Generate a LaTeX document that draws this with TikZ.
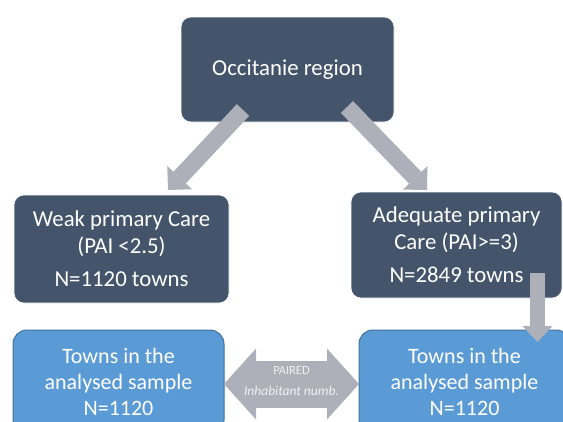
\documentclass[tikz,border=0pt]{standalone}
\usepackage{fontspec}
\setmainfont{Carlito}
\usetikzlibrary{positioning,calc,arrows.meta}

\definecolor{slate}{RGB}{68,84,106}
\definecolor{skyblue}{RGB}{91,155,213}
\definecolor{skyedge}{RGB}{65,113,156}
\definecolor{arrowgrey}{RGB}{173,176,184}

\begin{document}
\begin{tikzpicture}[
        x=1pt, y=1pt,
        darkblock/.style={rectangle, draw=white, line width=0.6pt, fill=slate, text=white, align=center, rounded corners=10pt, outer sep=0pt, font=\fontsize{22.8}{27}\selectfont},
        townblock/.style={rectangle, draw=skyedge, line width=1pt, fill=skyblue, text=white, align=center, rounded corners=14pt, outer sep=0pt, minimum width=211pt, minimum height=104pt, font=\fontsize{22}{26}\selectfont},
        fatline/.style={draw=arrowgrey, line width=17pt, -{Triangle[width=34pt, length=17pt, line width=0pt]}},
        pairline/.style={draw=arrowgrey, line width=47pt, {Triangle[width=71pt, length=32pt, line width=0pt]}-{Triangle[width=71pt, length=32pt, line width=0pt]}},
        pairtext/.style={text=white!94!black, align=center, font=\fontsize{13.5}{16}\selectfont}
    ]
    \useasboundingbox (0,0) rectangle (563,-421);
    \clip (0,0) rectangle (563,-421);

    % Region
    \node [darkblock, minimum width=213pt, minimum height=105pt] (occ) at (287.5,-69.5) {Occitanie region};

    % Primary care levels
    \node [darkblock, minimum width=215pt, minimum height=108pt, below=73pt of occ, xshift=-166pt] (weak) {Weak primary Care\\(PAI <2.5)\\[6pt]N=1120 towns};
    \node [darkblock, minimum width=211pt, minimum height=106pt, below=70pt of occ, xshift=169pt] (adequate) {Adequate primary\\Care (PAI>=3)\\[6pt]N=2849 towns};

    % Analysed samples
    \node [townblock, below=27pt of weak, xshift=-3pt] (townsL) {Towns in the\\analysed sample\\N=1120};
    \node [townblock, below=32pt of adequate, xshift=8pt] (townsR) {Towns in the\\analysed sample\\N=1120};

    % Arrows
    \draw [fatline] ($(occ.south)+(-44.5,12)$) -- ($(weak.north)+(46.5,5)$);
    \draw [fatline] ($(occ.south)+(59.5,15)$) -- ($(adequate.north)+(-29.5,2)$);
    \draw [fatline, line width=15pt, -{Triangle[width=30pt, length=16pt, line width=0pt]}] ($(adequate.south)+(81,25)$) -- ($(townsR.north)+(73,-12)$);

    % Pairing
    \draw [pairline] ($(townsL.east)+(0,-2)$) -- node [pairtext, yshift=3pt] {{\fontsize{12.5}{14}\selectfont PAIRED}\\[5pt]\textit{Inhabitant numb.}} ($(townsR.west)+(0,-2)$);

\end{tikzpicture}
\end{document}
